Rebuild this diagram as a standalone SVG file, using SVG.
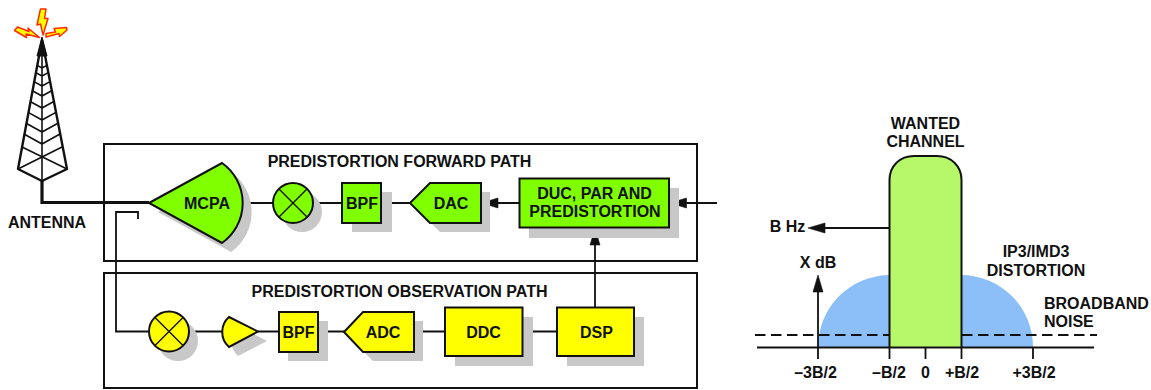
<svg xmlns="http://www.w3.org/2000/svg" width="1151" height="390" viewBox="0 0 1151 390">
<style>
text{font-family:"Liberation Sans",Arial,sans-serif;font-weight:700;font-size:16px;fill:#111;text-anchor:middle}
.frame{fill:none;stroke:#111;stroke-width:2}
.sh{fill:#c8c8c8;stroke:none}
.g{fill:#7fff00;stroke:#111;stroke-width:2}
.y{fill:#ffff00;stroke:#111;stroke-width:2}
.w{fill:none;stroke:#111;stroke-width:1.800}
.x{fill:none;stroke:#111;stroke-width:1.400}
.bolt{fill:#ffff00;stroke:#ff2a00;stroke-width:1.500;stroke-linejoin:round}
.dash{fill:none;stroke:#111;stroke-width:2;stroke-dasharray:10.500 5.500}
.head{fill:#111;stroke:#111;stroke-width:0.600;stroke-linejoin:round}
</style>
<g id="frames">
<rect class="frame" x="104" y="144" width="593" height="117"/>
<rect class="frame" x="104" y="273" width="593" height="115"/>
</g>
<g id="spectrum">
<path d="M818 347A72 72 0 0 1 890 275H961A72 72 0 0 1 1033 347Z" fill="#8cbff8"/>
<path d="M755 335H889M962 335H1097" class="dash"/>
<path d="M889.500 347V180C889.500 166 900 156 914 156H937C951 156 961.500 166 961.500 180V347" fill="#b6f86a" stroke="#111" stroke-width="2"/>
<path d="M757 347.500H1094M889.500 347V359M925.500 347V359M961.500 347V359M1033 347V359M818 359V290" class="w"/>
<path d="M818 275L813 292H823Z" class="head"/>
<path d="M889 228H820" class="w"/>
<path d="M808 228L825 223V233Z" class="head"/>
<text x="925.500" y="129">WANTED</text>
<text x="925.500" y="147">CHANNEL</text>
<text x="787.500" y="232">B Hz</text>
<text x="818" y="268">X dB</text>
<text x="1036" y="257">IP3/IMD3</text>
<text x="1036" y="276">DISTORTION</text>
<text x="1044" y="309" style="text-anchor:start">BROADBAND</text>
<text x="1044" y="327" style="text-anchor:start">NOISE</text>
<text x="815.500" y="377.500">–3B/2</text>
<text x="889" y="377.500">–B/2</text>
<text x="925.500" y="377.500">0</text>
<text x="962" y="377.500">+B/2</text>
<text x="1034" y="377.500">+3B/2</text>
</g>
<g id="connectors">
<path d="M42 181V202.500H149" fill="none" stroke="#111" stroke-width="3.200"/>
<path d="M138 219V212H116V331.500H149M243 203H273M313 203H342M381 203H410M519 203H497M717 203H686M189 331.500H222M258 331.500H279M318 331.500H344M414 331.500H445M522 331.500H557M595 307V245" class="w"/>
<path d="M481.500 203L498 198V208Z" class="head"/>
<path d="M670 203L686.500 198V208Z" class="head"/>
<path d="M595 228.500L590 245H600Z" class="head"/>
</g>
<g id="antenna">
<path d="M42 40L18 169L42 181L67 169L42 40Z" fill="none" stroke="#111" stroke-width="2.400" stroke-linejoin="round"/>
<path d="M42 37L37 56H47Z" fill="#111" stroke="#111"/>
<path d="M42 40V181M37.200 65.400L42 68L46.800 65.400M35.800 72.600L42 76L48.200 72.600M34 81.600L42 86L50 81.600M32.300 90.700L42 96L51.700 90.700M30.200 101.500L42 108L53.800 101.500M28.200 112.400L42 120L55.800 112.400M26.100 123.300L42 132L57.900 123.300M24 134L42 144L60 134M22 147L67 169M62 147L18 169" fill="none" stroke="#111" stroke-width="1.600"/>
<path class="bolt" d="M40.500 9L46 9L44.500 18.500L48 18.500L43 35L40.500 24L37 25Z"/>
<path class="bolt" d="M17.500 27L29 31.500L28 28L39.500 37.500L26 34L26.500 37.500L14.500 30.500Z"/>
<path class="bolt" d="M46 33.500L55.500 32L54 28.500L66.500 27.500L67 30L59.500 36.500L59 33.500L46 37Z"/>
<text x="47" y="228">ANTENNA</text>
</g>
<g id="mcpa">
<path class="sh" d="M158 212L231 172A49 49 0 0 1 231 252Z"/>
<path class="g" d="M149 203L222 163A49 49 0 0 1 222 243Z"/>
<text x="207" y="208.500">MCPA</text>
</g>
<g id="mixer1">
<circle class="sh" cx="302" cy="212" r="20"/>
<circle class="g" cx="293" cy="203" r="20"/>
<path d="M279 189L307 217M307 189L279 217" class="x"/>
</g>
<g id="bpf1">
<rect class="sh" x="352" y="192" width="40" height="40"/>
<rect class="g" x="342" y="183" width="39" height="40"/>
<text x="362" y="208.500">BPF</text>
</g>
<g id="dac">
<path class="sh" d="M420 212L440 192H490V232H440Z"/>
<path class="g" d="M410 203L430 183H481V223H430Z"/>
<text x="451" y="208.500">DAC</text>
</g>
<g id="duc">
<rect class="sh" x="529" y="188" width="150" height="50"/>
<rect class="g" x="519.500" y="178.500" width="149.500" height="49"/>
<text x="594.500" y="199">DUC, PAR AND</text>
<text x="595" y="217">PREDISTORTION</text>
</g>
<g id="mixer2">
<circle class="sh" cx="178" cy="341" r="20"/>
<circle class="y" cx="169" cy="331.500" r="20"/>
<path d="M155 317.500L183 345.500M183 317.500L155 345.500" class="x"/>
</g>
<g id="amp2">
<path class="sh" d="M238 326L267 341L238 356A20 20 0 0 1 238 326Z"/>
<path class="y" d="M229 317L258 331.500L229 347A20 20 0 0 1 229 317Z"/>
</g>
<g id="bpf2">
<rect class="sh" x="288" y="321" width="40" height="40"/>
<rect class="y" x="279" y="312" width="39" height="40"/>
<text x="298.500" y="337.500">BPF</text>
</g>
<g id="adc">
<path class="sh" d="M353 341L373 321H423V361H373Z"/>
<path class="y" d="M344 332L363 312H414V352H363Z"/>
<text x="383" y="337.500">ADC</text>
</g>
<g id="ddc">
<rect class="sh" x="455" y="317" width="78" height="49"/>
<rect class="y" x="445" y="307.500" width="77.500" height="48.500"/>
<text x="483.500" y="337.500">DDC</text>
</g>
<g id="dsp">
<rect class="sh" x="567" y="317" width="77" height="49"/>
<rect class="y" x="557" y="307.500" width="77" height="48.500"/>
<text x="596.500" y="337.500">DSP</text>
</g>
<g id="titles">
<text x="399.500" y="167">PREDISTORTION FORWARD PATH</text>
<text x="399.500" y="297">PREDISTORTION OBSERVATION PATH</text>
</g>
</svg>
